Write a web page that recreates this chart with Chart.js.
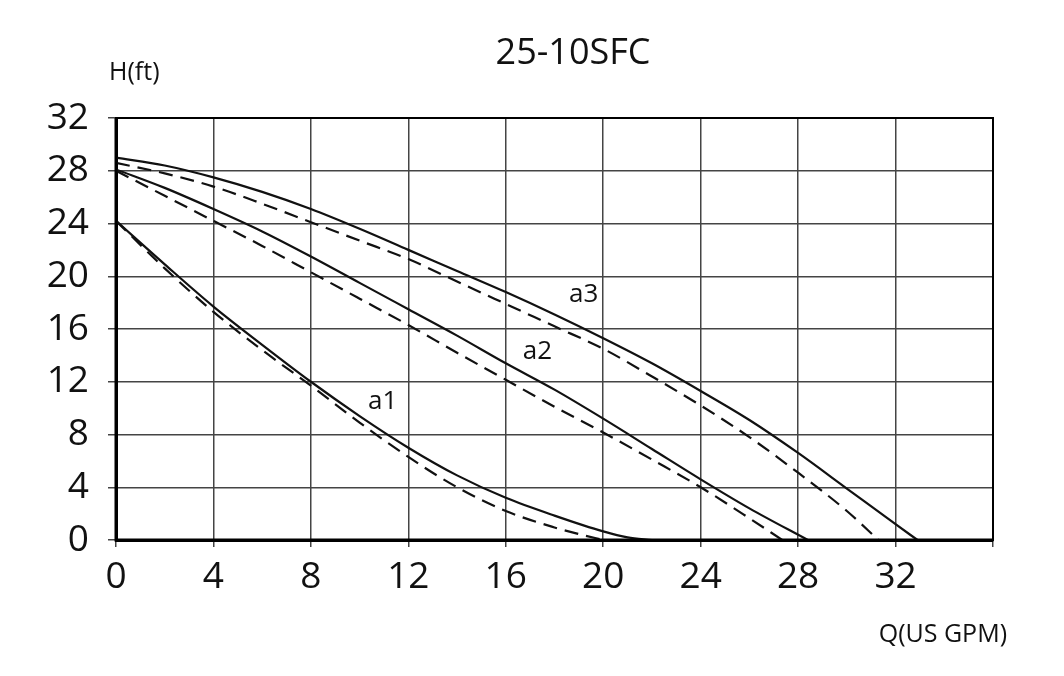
<!DOCTYPE html>
<html>
<head>
<meta charset="utf-8">
<script src="https://cdn.jsdelivr.net/npm/chart.js@4/dist/chart.umd.min.js"></script>
<style>
  html, body { margin: 0; padding: 0; background: #fff; }
  #wrap { width: 1064px; height: 676px; position: relative; }
</style>
</head>
<body>
<div id="wrap"><canvas id="c" width="1064" height="676"></canvas></div>
<script>
// ---- data ----
const chartTitle = "25-10SFC";
const yUnit = "H(ft)";
const xUnit = "Q(US GPM)";
const xTicks = [0, 4, 8, 12, 16, 20, 24, 28, 32];
const yTicks = [0, 4, 8, 12, 16, 20, 24, 28, 32];

const a1SolidQ = [0, 2, 4, 6, 8, 10, 12, 14, 16, 18, 20, 21, 22];
const a1SolidH = [24.2, 20.9, 17.7, 14.8, 12.0, 9.4, 7.0, 4.9, 3.2, 1.85, 0.65, 0.2, 0];
const a1DashQ  = [0, 2, 4, 6, 8, 10, 12, 14, 16, 18, 19, 20];
const a1DashH  = [24.2, 20.6, 17.3, 14.4, 11.7, 8.9, 6.3, 4.0, 2.2, 0.95, 0.45, 0];

const a2SolidQ = [0, 2, 4, 6, 8, 10, 12, 14, 16, 18, 20, 22, 24, 26, 28.4];
const a2SolidH = [28.1, 26.7, 25.1, 23.4, 21.5, 19.5, 17.5, 15.5, 13.4, 11.4, 9.2, 6.9, 4.6, 2.4, 0];
const a2DashQ  = [0, 2, 4, 6, 8, 10, 12, 14, 16, 18, 20, 22, 24, 26, 27.35];
const a2DashH  = [28.0, 26.1, 24.2, 22.3, 20.3, 18.3, 16.3, 14.2, 12.15, 10.1, 8.15, 6.1, 4.0, 1.65, 0];

const a3SolidQ = [0, 2, 4, 6, 8, 10, 12, 14, 16, 18, 20, 22, 24, 26, 28, 30, 32, 32.9];
const a3SolidH = [29.0, 28.4, 27.5, 26.4, 25.1, 23.6, 22.0, 20.4, 18.8, 17.1, 15.3, 13.4, 11.3, 9.1, 6.6, 3.9, 1.2, 0];
const a3DashQ  = [0, 2, 4, 6, 8, 10, 12, 14, 16, 18, 20, 22, 24, 26, 28, 30, 31.3];
const a3DashH  = [28.6, 27.8, 26.8, 25.5, 24.1, 22.7, 21.3, 19.6, 17.9, 16.2, 14.5, 12.4, 10.2, 7.8, 5.1, 2.2, 0];

const curveLabels = ["a1", "a2", "a3"];
const curveLabelQ = [10.95, 17.3, 19.2];
const curveLabelH = [10.5, 14.3, 18.6];

// ---- build ----
const pts = (qs, hs) => qs.map((q, i) => ({ x: q, y: hs[i] }));
const FONT = "'Open Sans', 'Noto Sans', sans-serif";

function line(data, dashed) {
  return {
    data: data,
    borderColor: '#111',
    borderWidth: 2.2,
    borderDash: dashed ? [14, 8] : [],
    pointRadius: 0,
    fill: false,
    cubicInterpolationMode: 'monotone'
  };
}

const datasets = [
  line(pts(a1SolidQ, a1SolidH), false),
  line(pts(a1DashQ, a1DashH), true),
  line(pts(a2SolidQ, a2SolidH), false),
  line(pts(a2DashQ, a2DashH), true),
  line(pts(a3SolidQ, a3SolidH), false),
  line(pts(a3DashQ, a3DashH), true)
];

const textPlugin = {
  id: 'texts',
  afterDatasetsDraw(chart) {
    const { ctx, chartArea, scales } = chart;
    ctx.save();
    // frame
    ctx.strokeStyle = '#000';
    ctx.lineWidth = 2;
    ctx.strokeRect(chartArea.left, chartArea.top, chartArea.right - chartArea.left, chartArea.bottom - chartArea.top);
    ctx.lineWidth = 3;
    ctx.beginPath();
    ctx.moveTo(chartArea.left, chartArea.top);
    ctx.lineTo(chartArea.left, chartArea.bottom);
    ctx.lineTo(chartArea.right, chartArea.bottom);
    ctx.stroke();

    ctx.fillStyle = '#111';
    ctx.textAlign = 'center';
    ctx.textBaseline = 'alphabetic';
    ctx.font = "36px " + FONT;
    ctx.fillText(chartTitle, 573, 64);

    ctx.font = "25px " + FONT;
    ctx.textAlign = 'left';
    ctx.fillText(yUnit, 109, 80);
    ctx.textAlign = 'right';
    ctx.fillText(xUnit, 1007, 642);

    ctx.textAlign = 'center';
    ctx.textBaseline = 'middle';
    ctx.font = "26px " + FONT;
    curveLabels.forEach((t, i) => {
      ctx.fillText(t, scales.x.getPixelForValue(curveLabelQ[i]), scales.y.getPixelForValue(curveLabelH[i]));
    });
    ctx.restore();
  }
};

new Chart(document.getElementById('c'), {
  type: 'line',
  data: { datasets },
  plugins: [textPlugin],
  options: {
    responsive: false,
    animation: false,
    events: [],
    layout: { padding: { left: 0, top: 118, right: 71, bottom: 0 } },
    plugins: { legend: { display: false }, tooltip: { enabled: false }, title: { display: false } },
    scales: {
      x: {
        type: 'linear',
        min: 0, max: 36,
        afterBuildTicks(axis) { axis.ticks = [...xTicks, 36].map(v => ({ value: v })); },
        afterFit(axis) { axis.height = 136; },
        ticks: {
          callback: v => (xTicks.includes(v) ? String(v) : ''),
          color: '#111',
          font: { family: FONT, size: 37 },
          padding: 8,
          maxRotation: 0,
          autoSkip: false
        },
        grid: { color: '#444', lineWidth: 1.5, tickLength: 7, tickColor: '#444' },
        border: { display: true, color: '#000', width: 3 }
      },
      y: {
        type: 'linear',
        min: 0, max: 32,
        afterBuildTicks(axis) { axis.ticks = yTicks.map(v => ({ value: v })); },
        afterFit(axis) { axis.width = 116; },
        ticks: {
          callback: v => String(v),
          color: '#111',
          font: { family: FONT, size: 37 },
          padding: 19,
          autoSkip: false
        },
        grid: { color: '#444', lineWidth: 1.5, tickLength: 8, tickColor: '#444' },
        border: { display: true, color: '#000', width: 3 }
      }
    }
  }
});
</script>
</body>
</html>
